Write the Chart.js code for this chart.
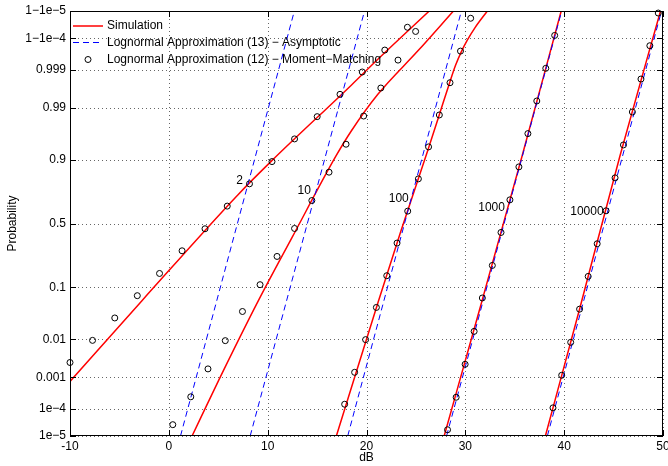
<!DOCTYPE html>
<html>
<head>
<meta charset="utf-8">
<script src="https://cdn.jsdelivr.net/npm/chart.js@4.4.0/dist/chart.umd.min.js"></script>
<style>
  html, body { margin: 0; padding: 0; background: #fff; }
  #wrap { width: 668px; height: 466px; }
</style>
</head>
<body>
<div id="wrap"><canvas id="chart" width="668" height="466"></canvas></div>
<script>
// Values: x in dB, y as cumulative probability
const groupLabels = ['2', '10', '100', '1000', '10000']

const yTickProbs = [1e-5, 1e-4, 0.001, 0.01, 0.1, 0.5, 0.9, 0.99, 0.999, 0.9999, 0.99999]
const yTickLabels = ['1e\u22125', '1e\u22124', '0.001', '0.01', '0.1', '0.5', '0.9', '0.99', '0.999', '1\u22121e\u22124', '1\u22121e\u22125']

// Simulation (red)
const simDb2 = [-10, -2.72, 7.05, 10.4, 18.46, 21.15, 26.35]
const simP2 = [7.6e-4, 0.0607, 0.7221, 0.8956, 0.99725, 0.99951, 0.99999]
const simDb10 = [2.35, 5.04, 9.06, 12.5, 16.9, 18.46, 21.15, 25.18, 28.8]
const simP10 = [1e-5, 8.2e-4, 0.0607, 0.394, 0.9115, 0.9683, 0.99524, 0.99973, 0.99999]
const simDb100 = [16.95, 21.22, 23.49, 26.18, 27.36, 28.37, 29.0, 29.6, 30.2, 30.95, 32.23]
const simP100 = [1e-5, 0.0607, 0.442, 0.9274, 0.9853, 0.99745, 0.999238, 0.99972, 0.999883, 0.999956, 0.99999]
const simDb1000 = [27.86, 31.55, 35.75, 39.7]
const simP1000 = [1e-5, 0.0495, 0.9131, 0.99999]
const simDb10000 = [38.1, 41.65, 45.65, 49.75]
const simP10000 = [1e-5, 0.0495, 0.9131, 0.99999]

// Lognormal approximation (13), asymptotic (blue dashed) - end points
const asyDb2 = [1.18, 12.7]
const asyDb10 = [8.23, 19.8]
const asyDb100 = [18.1, 29.6]
const asyDb1000 = [28.1, 39.75]
const asyDb10000 = [38.3, 49.85]
const asyP = [1e-5, 0.99999]

// Lognormal approximation (12), moment matching (circles)
const mmDb2 = [-10, -7.72, -5.47, -3.19, -0.94, 1.34, 3.66, 5.91, 8.16, 10.44, 12.72, 15.01, 17.32, 19.57, 21.85, 24.14]
const mmP2 = [0.00264, 0.0095, 0.029, 0.0737, 0.158, 0.292, 0.458, 0.6365, 0.787, 0.893, 0.9552, 0.984, 0.99524, 0.99882, 0.99975, 0.999959]
const mmDb10 = [0.4, 2.22, 3.96, 5.71, 7.45, 9.23, 10.95, 12.72, 14.47, 16.21, 17.93, 19.71, 21.45, 23.19, 24.97]
const mmP10 = [2.7e-5, 2.52e-4, 0.00176, 0.00936, 0.0387, 0.1097, 0.2543, 0.4602, 0.6776, 0.8485, 0.9442, 0.9845, 0.99673, 0.99948, 0.999942]
const mmDb100 = [17.79, 18.8, 19.91, 21.0, 22.05, 23.09, 24.17, 25.25, 26.28, 27.37, 28.45, 29.51, 30.54]
const mmP100 = [1.43e-4, 0.00141, 0.00988, 0.046, 0.1473, 0.3472, 0.598, 0.8149, 0.9379, 0.9853, 0.99764, 0.99973, 0.999981]
const mmDb1000 = [28.2, 29.07, 29.98, 30.89, 31.72, 32.73, 33.61, 34.51, 35.42, 36.33, 37.23, 38.14, 39.04]
const mmP1000 = [1.74e-5, 2.44e-4, 0.00236, 0.0152, 0.0675, 0.1999, 0.4286, 0.6826, 0.872, 0.9644, 0.99303, 0.99908, 0.99992]
const mmDb10000 = [38.87, 39.75, 40.66, 41.56, 42.43, 43.34, 44.24, 45.15, 46.0, 46.9, 47.77, 48.67, 49.52]
const mmP10000 = [1.08e-4, 0.00116, 0.00854, 0.0428, 0.1441, 0.342, 0.6006, 0.8202, 0.9426, 0.9874, 0.99813, 0.99982, 0.999988]

// where the group size labels sit (dB, probability)
const labelDb = [7.15, 13.7, 23.26, 32.66, 42.3]
const labelP = [0.804, 0.744, 0.688, 0.621, 0.593]

const simDb = [simDb2, simDb10, simDb100, simDb1000, simDb10000]
const simP = [simP2, simP10, simP100, simP1000, simP10000]
const asyDb = [asyDb2, asyDb10, asyDb100, asyDb1000, asyDb10000]
const mmDb = [mmDb2, mmDb10, mmDb100, mmDb1000, mmDb10000]
const mmP = [mmP2, mmP10, mmP100, mmP1000, mmP10000]

const FONT = "'Liberation Sans', Arial, Helvetica, sans-serif"
const RED = '#ff0000'
const BLUE = '#0000ff'

// inverse of the standard normal cdf (Acklam), used for the probability axis
function probit(p) {
  const a = [-3.969683028665376e+01, 2.209460984245205e+02, -2.759285104469687e+02, 1.383577518672690e+02, -3.066479806614716e+01, 2.506628277459239e+00]
  const b = [-5.447609879822406e+01, 1.615858368580409e+02, -1.556989798598866e+02, 6.680131188771972e+01, -1.328068155288572e+01]
  const c = [-7.784894002430293e-03, -3.223964580411365e-01, -2.400758277161838e+00, -2.549732539343734e+00, 4.374664141464968e+00, 2.938163982698783e+00]
  const d = [7.784695709041462e-03, 3.224671290700398e-01, 2.445134137142996e+00, 3.754408661907416e+00]
  const plow = 0.02425
  let q, r
  if (p < plow) {
    q = Math.sqrt(-2 * Math.log(p))
    return (((((c[0]*q+c[1])*q+c[2])*q+c[3])*q+c[4])*q+c[5]) / ((((d[0]*q+d[1])*q+d[2])*q+d[3])*q+1)
  }
  if (p > 1 - plow) {
    q = Math.sqrt(-2 * Math.log(1 - p))
    return -(((((c[0]*q+c[1])*q+c[2])*q+c[3])*q+c[4])*q+c[5]) / ((((d[0]*q+d[1])*q+d[2])*q+d[3])*q+1)
  }
  q = p - 0.5
  r = q * q
  return (((((a[0]*r+a[1])*r+a[2])*r+a[3])*r+a[4])*r+a[5])*q / (((((b[0]*r+b[1])*r+b[2])*r+b[3])*r+b[4])*r+1)
}

function toPoints(xs, ps) {
  return xs.map((x, i) => ({x: x, y: probit(ps[i])}))
}

// first dataset ends up on top, so circles, then dashed, then red
let datasets = []
for (let i = 0; i < groupLabels.length; i++) {
  datasets.push({
    label: 'Moment-Matching ' + groupLabels[i],
    data: toPoints(mmDb[i], mmP[i]),
    showLine: false,
    pointStyle: 'circle',
    pointRadius: 3,
    pointBorderWidth: 1,
    pointBorderColor: '#000',
    pointBackgroundColor: 'rgba(0,0,0,0)',
    clip: false
  })
}
for (let i = 0; i < groupLabels.length; i++) {
  datasets.push({
    label: 'Asymptotic ' + groupLabels[i],
    data: toPoints(asyDb[i], asyP),
    showLine: true,
    borderColor: BLUE,
    borderWidth: 1,
    borderDash: [6, 4],
    pointRadius: 0
  })
}
for (let i = 0; i < groupLabels.length; i++) {
  datasets.push({
    label: 'Simulation ' + groupLabels[i],
    data: toPoints(simDb[i], simP[i]),
    showLine: true,
    borderColor: RED,
    borderWidth: 1.5,
    cubicInterpolationMode: 'monotone',
    pointRadius: 0
  })
}

// dotted grid, drawn under the data
const dottedGrid = {
  id: 'dottedGrid',
  beforeDatasetsDraw(chart) {
    const {ctx, chartArea: a, scales: {x, y}} = chart
    ctx.save()
    ctx.strokeStyle = 'rgba(0,0,0,0.6)'
    ctx.lineWidth = 1
    ctx.setLineDash([1, 3])
    ctx.beginPath()
    x.ticks.forEach(t => {
      const px = Math.round(x.getPixelForValue(t.value)) + 0.5
      ctx.moveTo(px, a.bottom); ctx.lineTo(px, a.top)
    })
    y.ticks.forEach(t => {
      const py = Math.round(y.getPixelForValue(t.value)) + 0.5
      ctx.moveTo(a.left, py); ctx.lineTo(a.right, py)
    })
    ctx.stroke()
    ctx.restore()
  }
}

// inward ticks, box, curve labels and the legend
const decorations = {
  id: 'decorations',
  afterDatasetsDraw(chart) {
    const {ctx, chartArea: a, scales: {x, y}} = chart
    ctx.save()
    ctx.strokeStyle = '#000'
    ctx.lineWidth = 1
    ctx.beginPath()
    x.ticks.forEach(t => {
      const px = Math.round(x.getPixelForValue(t.value)) + 0.5
      ctx.moveTo(px, a.bottom); ctx.lineTo(px, a.bottom - 6)
      ctx.moveTo(px, a.top); ctx.lineTo(px, a.top + 6)
    })
    y.ticks.forEach(t => {
      const py = Math.round(y.getPixelForValue(t.value)) + 0.5
      ctx.moveTo(a.left, py); ctx.lineTo(a.left + 6, py)
      ctx.moveTo(a.right, py); ctx.lineTo(a.right - 6, py)
    })
    ctx.stroke()
    ctx.strokeRect(Math.round(a.left) + 0.5, Math.round(a.top) + 0.5, Math.round(a.width) - 1, Math.round(a.height) - 1)

    // group size labels
    ctx.fillStyle = '#000'
    ctx.font = '12px ' + FONT
    ctx.textAlign = 'center'
    ctx.textBaseline = 'middle'
    for (let i = 0; i < groupLabels.length; i++) {
      ctx.fillText(groupLabels[i], x.getPixelForValue(labelDb[i]), y.getPixelForValue(probit(labelP[i])))
    }

    // legend (no box, transparent)
    ctx.textAlign = 'left'
    const lx = a.left + 3
    const rows = [a.top + 15, a.top + 31.5, a.top + 48.5]
    ctx.strokeStyle = RED
    ctx.lineWidth = 1.5
    ctx.beginPath(); ctx.moveTo(lx, rows[0]); ctx.lineTo(lx + 30, rows[0]); ctx.stroke()
    ctx.strokeStyle = BLUE
    ctx.lineWidth = 1
    ctx.setLineDash([6, 4])
    ctx.beginPath(); ctx.moveTo(lx, rows[1]); ctx.lineTo(lx + 30, rows[1]); ctx.stroke()
    ctx.setLineDash([])
    ctx.strokeStyle = '#000'
    ctx.beginPath(); ctx.arc(lx + 15, rows[2], 3, 0, Math.PI * 2); ctx.stroke()
    ctx.fillText('Simulation', lx + 34, rows[0])
    ctx.fillText('Lognormal Approximation (13) \u2212 Asymptotic', lx + 34, rows[1])
    ctx.fillText('Lognormal Approximation (12) \u2212 Moment\u2212Matching', lx + 34, rows[2])
    ctx.restore()
  }
}

Chart.defaults.font.family = FONT
Chart.defaults.font.size = 12
Chart.defaults.color = '#000'

new Chart(document.getElementById('chart'), {
  type: 'scatter',
  data: {datasets: datasets},
  plugins: [dottedGrid, decorations],
  options: {
    responsive: false,
    animation: false,
    layout: {padding: {top: 11, right: 2, left: 0, bottom: 0}},
    plugins: {
      legend: {display: false},
      tooltip: {enabled: false}
    },
    scales: {
      x: {
        type: 'linear',
        min: -10,
        max: 50,
        ticks: {stepSize: 10, padding: 3, maxRotation: 0},
        grid: {display: false, drawTicks: false},
        border: {display: false},
        title: {display: true, text: 'dB', padding: {top: 0, bottom: 1}},
        afterFit(s) {
          s.height = 30
          s.paddingLeft = 0
          s.paddingRight = 0
        }
      },
      y: {
        type: 'linear',
        min: probit(1e-5),
        max: probit(0.99999),
        afterBuildTicks(s) {
          s.ticks = yTickProbs.map(p => ({value: probit(p)}))
        },
        ticks: {
          autoSkip: false,
          padding: 4,
          callback: (v, i) => yTickLabels[i]
        },
        grid: {display: false, drawTicks: false},
        border: {display: false},
        title: {display: true, text: 'Probability', padding: {top: 5, bottom: 0}},
        afterFit(s) {
          s.width = 70
          s.paddingTop = 0
          s.paddingBottom = 0
        }
      }
    }
  }
})
</script>
</body>
</html>
